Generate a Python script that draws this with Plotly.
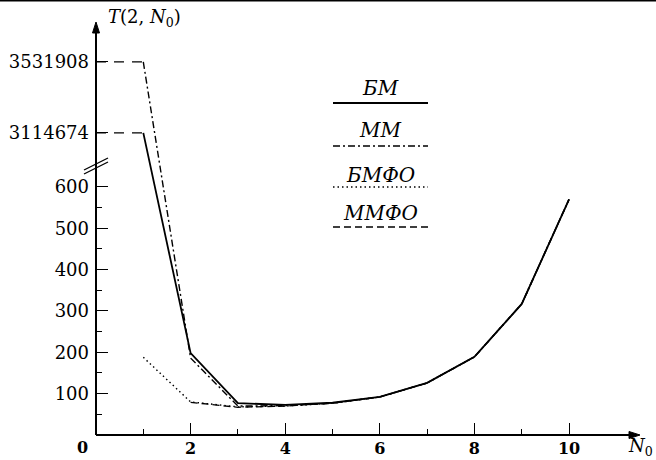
import plotly.graph_objects as go

# Number of processors N0 and run time T(2, N0) for the four methods
n0 = [1, 2, 3, 4, 5, 6, 7, 8, 9, 10]
t_bm = [3114674, 198, 77, 73, 78, 92, 126, 189, 317, 570]
t_mm = [3531908, 186, 70, 71, 77, 92, 126, 189, 317, 570]
t_bmfo = [188, 80, 68, 70, 77, 92, 126, 189, 317, 570]
t_mmfo = [None, 79, 67, 70, 77, 92, 126, 189, 317, 570]

legend_names = ["БМ", "ММ", "БМФО", "ММФО"]
y_ticks_low = [100, 200, 300, 400, 500, 600]
y_minor = [50, 150, 250, 350, 450, 550]
x_major = [2, 4, 6, 8, 10]

W, H = 656, 460
ML, MR, MT, MB = 96, 16, 22, 25
PW, PH = W - ML - MR, H - MT - MB

# Broken y axis: linear up to the break, then the two huge values placed above it
BREAK = 700
top_lo, top_hi = min(t_bm[0], t_mm[0]), max(t_bm[0], t_mm[0])
POS_LO, POS_HI = 730.7, 902.5
Y_MAX = 999.0
X_MAX = 11.5


def ypos(v):
    if v is None:
        return None
    if v <= BREAK:
        return v
    return POS_LO + (v - top_lo) * (POS_HI - POS_LO) / (top_hi - top_lo)


def px(x, y):
    """pixel position -> paper coordinates"""
    return (x - ML) / PW, (H - MB - y) / PH


series = [
    (t_mmfo, dict(color="black", width=1.3, dash="7px,4px")),
    (t_bmfo, dict(color="black", width=1.4, dash="1.5px,3px")),
    (t_mm, dict(color="black", width=1.4, dash="7px,3px,2px,3px")),
    (t_bm, dict(color="black", width=1.8)),
]

fig = go.Figure()

# dashed guides from the axis to the two values above the break
for v in (t_mm[0], t_bm[0]):
    fig.add_trace(go.Scatter(x=[0, n0[0]], y=[ypos(v), ypos(v)], mode="lines",
                             line=dict(color="black", width=1.4, dash="10px,8px"),
                             hoverinfo="skip", showlegend=False))

for vals, ln in series:
    fig.add_trace(go.Scatter(x=n0, y=[ypos(v) for v in vals], mode="lines",
                             line=ln, connectgaps=False, showlegend=False))

serif = "DejaVu Serif"

fig.update_xaxes(range=[0, X_MAX], showgrid=False, zeroline=False, showline=False,
                 automargin=False,
                 tickvals=x_major, ticktext=[str(v) for v in x_major],
                 ticks="inside", ticklen=12, tickwidth=1.3, tickcolor="black",
                 minor=dict(tickvals=[1, 3, 5, 7, 9], ticks="inside", ticklen=6,
                            tickwidth=1.3, tickcolor="black"),
                 tickfont=dict(family=serif, size=16, color="black", weight="bold"),
                 ticklabelstandoff=2)

y_vals = y_ticks_low + [ypos(t_bm[0]), ypos(t_mm[0])]
y_text = [str(v) for v in y_ticks_low] + [str(t_bm[0]), str(t_mm[0])]
fig.update_yaxes(range=[0, Y_MAX], showgrid=False, zeroline=False, showline=False,
                 automargin=False,
                 tickvals=y_vals, ticktext=y_text,
                 ticks="inside", ticklen=12, tickwidth=1.3, tickcolor="black",
                 minor=dict(tickvals=y_minor, ticks="inside", ticklen=6,
                            tickwidth=1.3, tickcolor="black"),
                 tickfont=dict(family=serif, size=18, color="black"),
                 ticklabelstandoff=6)

annotations = []
shapes = []


def label(text, x, y, size=18, **kw):
    pxx, pyy = px(x, y)
    annotations.append(dict(x=pxx, y=pyy, xref="paper", yref="paper", text=text,
                            showarrow=False, xanchor="center", yanchor="middle",
                            font=dict(family=serif, size=size, color="black", **kw)))


def seg(x0, y0, x1, y1, width=1.3, dash="solid"):
    a = px(x0, y0)
    b = px(x1, y1)
    shapes.append(dict(type="line", xref="paper", yref="paper", x0=a[0], y0=a[1],
                       x1=b[0], y1=b[1], line=dict(color="black", width=width, dash=dash)))


def tri(points):
    pts = [px(x, y) for x, y in points]
    path = "M " + " L ".join(f"{x},{y}" for x, y in pts) + " Z"
    shapes.append(dict(type="path", xref="paper", yref="paper", path=path,
                       fillcolor="black", line=dict(color="black", width=1)))


# axes with arrowheads
x_end = ML + PW
seg(ML, H - MB, x_end - 6, H - MB, width=2)
tri([(x_end, H - MB), (x_end - 11, H - MB - 3.5), (x_end - 11, H - MB + 3.5)])
seg(ML, H - MB, ML, MT + 6, width=2)
tri([(ML, MT), (ML - 3.5, MT + 11), (ML + 3.5, MT + 11)])

label("<i>T</i>(2, <i>N</i><sub>0</sub>)", 144, 18, size=18)
label("<i>N</i><sub>0</sub>", 640, 447, size=18)
label("<b>0</b>", 82, 447, size=16)

# legend: italic names with line samples beneath
legend_text_y = [88, 130, 175, 213]
legend_line_y = [103, 146, 187, 227]
legend_styles = [series[3][1], series[2][1], series[1][1], series[0][1]]
for name, ty, ly, st in zip(legend_names, legend_text_y, legend_line_y, legend_styles):
    label(f"<i>{name}</i>", 380, ty, size=20)
    seg(333, ly, 428, ly, width=st["width"], dash=st.get("dash", "solid"))

# break marks on the y axis
for dy in (0, -4):
    seg(84, 174 + dy, 108, 162 + dy, width=1.3)

# rule across the top
seg(0, 0.5, W, 0.5, width=2)

fig.update_layout(width=W, height=H, margin=dict(l=ML, r=MR, t=MT, b=MB),
                  plot_bgcolor="white", paper_bgcolor="white",
                  annotations=annotations, shapes=shapes, showlegend=False)

fig.write_html("out.html")
